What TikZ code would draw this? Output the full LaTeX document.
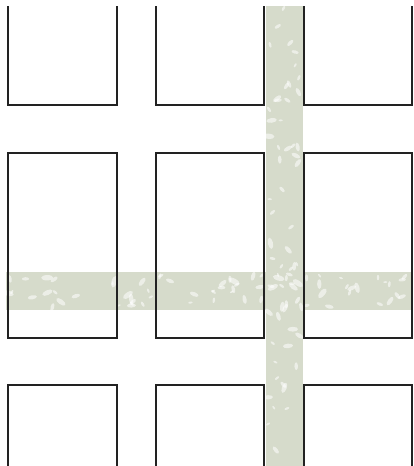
\documentclass[tikz,border=0pt]{standalone}
\usepackage{tikz}
\definecolor{bandgreen}{RGB}{214,219,203}
\definecolor{edgegray}{RGB}{34,34,34}
\tikzset{
block/.style={draw=edgegray,line width=1.7pt,line join=miter},
band/.style={fill=bandgreen},
speck/.style={fill=white,opacity=0.55}
}

\begin{document}
\begin{tikzpicture}[x=1pt,y=-1pt]
\useasboundingbox (0,0) rectangle (413,466);
% bands with a mottled finish
\begin{scope}
\clip (266,6) rectangle (303,466) (6,272) rectangle (411,310);
\fill[band] (266,6) rectangle (303,466);
\fill[band] (6,272) rectangle (411,310);
\pgfmathsetseed{11}
\foreach \i in {1,...,60} {
  \pgfmathsetmacro\yy{8+456*rnd}
  \pgfmathsetmacro\xx{284.5+17*rand}
  \pgfmathsetmacro\aa{180*rnd}
  \pgfmathsetmacro\rr{2+4*rnd}
  \fill[speck,shift={(\xx,\yy)},rotate=\aa] (0,0) ellipse (\rr pt and 0.45*\rr pt);
}
\foreach \i in {1,...,70} {
  \pgfmathsetmacro\xx{8+400*rnd}
  \pgfmathsetmacro\yy{291+17*rand}
  \pgfmathsetmacro\aa{180*rnd}
  \pgfmathsetmacro\rr{2+4*rnd}
  \fill[speck,shift={(\xx,\yy)},rotate=\aa] (0,0) ellipse (\rr pt and 0.45*\rr pt);
}
\end{scope}
% blocks
\foreach \xl/\xr in {8/117,156/264,304/412} {
  \draw[block] (\xl,6) -- (\xl,105) -- (\xr,105) -- (\xr,6);
  \draw[block] (\xl,153) rectangle (\xr,338);
  \draw[block] (\xl,466) -- (\xl,385) -- (\xr,385) -- (\xr,466);
}
\end{tikzpicture}
\end{document}
